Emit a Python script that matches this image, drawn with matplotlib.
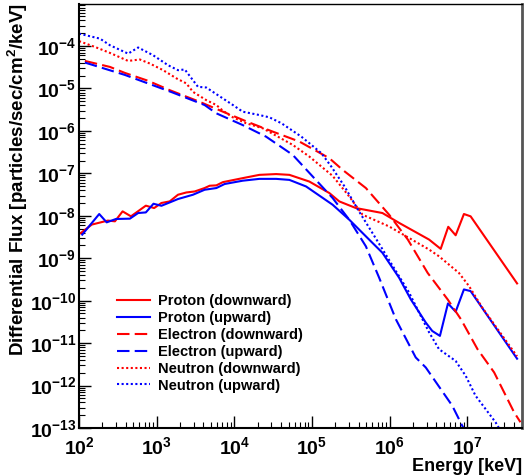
"""
plot.py - Differential flux of protons, electrons and neutrons (downward / upward)
Run: python3 plot.py
"""
import math
import matplotlib
matplotlib.use("Agg")
import matplotlib.pyplot as plt
from matplotlib.ticker import FuncFormatter, LogLocator, NullFormatter

plt.rcParams['font.family'] = ['Liberation Sans', 'DejaVu Sans']
plt.rcParams['font.weight'] = 'bold'
plt.rcParams['mathtext.fontset'] = 'custom'
plt.rcParams['mathtext.rm'] = 'Liberation Sans:bold'
plt.rcParams['mathtext.bf'] = 'Liberation Sans:bold'
plt.rcParams['mathtext.default'] = 'bf'

# ---- data (energy in keV, flux in particles/sec/cm^2/keV) ----
proton_down_e = [105, 146, 235, 290, 364, 466, 725, 927, 1150, 1470, 1880, 2410, 3090,
                 4140, 4810, 5860, 7120, 1.28e4, 2.1e4, 3.45e4, 5.11e4, 9.23e4, 1.67e5,
                 2.24e5, 3.67e5, 8.06e5, 1.32e6, 3.21e6, 4.53e6, 5.67e6, 7.06e6, 9.02e6,
                 1.10e7, 4.36e7]
proton_down_f = [3.9e-9, 6.2e-9, 7.7e-9, 7.4e-9, 1.27e-8, 9.7e-9, 1.73e-8, 1.52e-8, 2.0e-8,
                 2.18e-8, 3.13e-8, 3.54e-8, 3.74e-8, 4.5e-8, 5.1e-8, 5.2e-8, 6.2e-8, 7.7e-8,
                 9.2e-8, 9.6e-8, 9.2e-8, 6.4e-8, 3.43e-8, 2.18e-8, 1.52e-8, 1.16e-8, 6.8e-9,
                 2.75e-9, 1.66e-9, 5.5e-9, 3.47e-9, 1.10e-8, 9.7e-9, 2.55e-10]

proton_up_e = [110, 182, 227, 299, 452, 577, 725, 909, 1150, 1470, 1880, 2930, 4140, 5860,
               7490, 1.28e4, 2.1e4, 3.45e4, 5.11e4, 8.38e4, 1.84e5, 3.01e5, 4.93e5, 8.06e5,
               1.32e6, 1.87e6, 2.91e6, 3.53e6, 4.43e6, 5.62e6, 7.06e6, 9.02e6, 1.10e7, 4.36e7]
proton_up_f = [3.6e-9, 1.10e-8, 7.0e-9, 8.4e-9, 8.55e-9, 1.16e-8, 1.20e-8, 1.92e-8, 1.72e-8,
               2.06e-8, 2.48e-8, 3.13e-8, 4.1e-8, 4.5e-8, 5.6e-8, 6.7e-8, 7.4e-8, 7.4e-8,
               7.0e-8, 4.9e-8, 1.82e-8, 8.1e-9, 3.28e-9, 1.34e-9, 3.47e-10, 1.07e-10,
               3.05e-11, 1.93e-11, 1.48e-11, 8.6e-11, 5.5e-11, 1.84e-10, 1.68e-10, 4.3e-12]

electron_down_e = [119, 250, 389, 776, 1470, 3570, 7120, 1.57e4, 3.12e4, 6.87e4, 1.67e5,
                   2.47e5, 4.93e5, 9.82e5, 1.71e6, 3.08e6, 5.57e6, 8.26e6, 1.35e7, 2.21e7,
                   3.99e7, 4.82e7]
electron_down_f = [4.44e-5, 3.21e-5, 2.32e-5, 1.51e-5, 9.1e-6, 4.84e-6, 2.83e-6, 1.56e-6,
                   9.6e-7, 5.6e-7, 2.27e-7, 1.21e-7, 4.5e-8, 1.06e-8, 2.75e-9, 4.5e-10,
                   1.07e-10, 3.64e-11, 7.2e-12, 2.04e-12, 2.35e-13, 1.37e-13]

electron_up_e = [119, 389, 1550, 4140, 5860, 1.28e4, 2.56e4, 5.64e4, 1.02e5, 1.84e5, 3.01e5,
                 4.93e5, 7.31e5, 1.2e6, 2.16e6, 2.91e6, 6.38e6, 8.57e6, 1.1e7]
electron_up_f = [4.07e-5, 2.08e-5, 8.2e-6, 4.06e-6, 2.59e-6, 1.37e-6, 7.3e-7, 2.72e-7,
                 8.4e-8, 2.62e-8, 8.1e-9, 1.91e-9, 3.47e-10, 3.64e-11, 4.6e-12, 2.67e-12,
                 3.36e-13, 1.14e-13, 5e-14]

neutron_down_e = [100, 160, 250, 429, 607, 815, 1210, 1800, 2410, 2930, 4350, 5860, 7120,
                  9580, 1.42e4, 2.32e4, 5.64e4, 9.23e4, 1.84e5, 3.01e5, 4.47e5, 9.82e5,
                  3.21e6, 4.31e6, 7.78e6, 1.05e7, 1.55e7, 4.36e7]
neutron_down_f = [1.3e-4, 9.5e-5, 6.86e-5, 4.44e-5, 4.8e-5, 3.86e-5, 2.69e-5, 1.72e-5,
                  1.31e-5, 8.3e-6, 5.3e-6, 4.06e-6, 2.98e-6, 2.08e-6, 1.51e-6, 1.15e-6,
                  4.67e-7, 2.48e-7, 8.7e-8, 2.85e-8, 1.06e-8, 5.6e-9, 1.6e-9, 1.11e-9,
                  4.5e-10, 2.2e-10, 6.9e-11, 4.9e-12]

neutron_up_e = [100, 186, 250, 429, 577, 899, 1400, 1880, 2300, 3400, 4350, 7120, 9580,
                1.28e4, 2.1e4, 2.83e4, 4.04e4, 7.29e4, 1.32e5, 1.77e5, 2.62e5, 3.90e5,
                6.37e5, 1.77e6, 2.38e6, 3.21e6, 4.31e6, 7.06e6, 9.5e6, 1.27e7, 2.3e7, 3e7]
neutron_up_f = [1.95e-4, 1.49e-4, 1.04e-4, 6.6e-5, 9.2e-5, 6.05e-5, 3.52e-5, 2.69e-5,
                2.79e-5, 1.09e-5, 1.05e-5, 5.8e-6, 4.06e-6, 2.83e-6, 2.36e-6, 2.08e-6,
                1.51e-6, 7.3e-7, 2.98e-7, 1.44e-7, 4.9e-8, 1.39e-8, 3.28e-9, 1.57e-10,
                5.3e-11, 1.8e-11, 7.2e-12, 3.8e-12, 1.7e-12, 5.8e-13, 1.37e-13, 6e-14]

labels = ["Proton (downward)", "Proton (upward)", "Electron (downward)",
          "Electron (upward)", "Neutron (downward)", "Neutron (upward)"]

DASHED = (0, (6, 2.5))
DOTTED = (0, (1, 1.2))

fig = plt.figure(figsize=(5.24, 4.75), dpi=100)
ax = fig.add_axes([0.1508, 0.0989, 0.8448, 0.8937])

series = [
    (proton_down_e, proton_down_f, "#ff0000", "-"),
    (proton_up_e, proton_up_f, "#0000ff", "-"),
    (electron_down_e, electron_down_f, "#ff0000", DASHED),
    (electron_up_e, electron_up_f, "#0000ff", DASHED),
    (neutron_down_e, neutron_down_f, "#ff0000", DOTTED),
    (neutron_up_e, neutron_up_f, "#0000ff", DOTTED),
]
for (e, f, c, ls), lab in zip(series, labels):
    ax.plot(e, f, color=c, linestyle=ls, lw=1.5, label=lab)

ax.set_xscale("log"); ax.set_yscale("log")
ax.set_xlim(100, 5e7)
ax.set_ylim(1e-13, 1e-3)

def pow10(v, pos):
    if v <= 0:
        return ""
    return r"$\mathbf{10^{%d}}$" % round(math.log10(v))

ax.set_xticks([1e2, 1e3, 1e4, 1e5, 1e6, 1e7])
ax.set_yticks([10.0 ** k for k in range(-13, -3)])
ax.xaxis.set_major_formatter(FuncFormatter(pow10))
ax.yaxis.set_major_formatter(FuncFormatter(pow10))
ax.xaxis.set_minor_locator(LogLocator(base=10, subs=range(2, 10), numticks=20))
ax.yaxis.set_minor_locator(LogLocator(base=10, subs=range(2, 10), numticks=20))
ax.xaxis.set_minor_formatter(NullFormatter())
ax.yaxis.set_minor_formatter(NullFormatter())
ax.tick_params(which="major", direction="in", length=8.6, width=1, labelsize=14,
               top=False, right=False, pad=2)
ax.tick_params(which="minor", direction="in", length=4.3, width=0.8,
               top=False, right=False)
ax.tick_params(axis="x", pad=6)

for s in ["left", "bottom"]:
    ax.spines[s].set_linewidth(1.5)
ax.spines["top"].set_linewidth(1)
ax.spines["right"].set_linewidth(2)
ax.spines["right"].set_color("#555555")

ax.set_xlabel("Energy [keV]", fontsize=13, fontweight="bold", loc="right", labelpad=0)
ax.set_ylabel("Differential Flux [particles/sec/cm$^{2}$/keV]", fontsize=13.5,
              fontweight="bold", loc="top", labelpad=0)

ax.legend(loc="upper left", bbox_to_anchor=(116.7 / 524, 1 - 294 / 475),
          bbox_transform=fig.transFigure, frameon=False, fontsize=10.5,
          handlelength=2.3, handletextpad=0.55, labelspacing=0.2,
          borderpad=0, borderaxespad=0)

plt.savefig("out.png", dpi=100)
plt.close()
